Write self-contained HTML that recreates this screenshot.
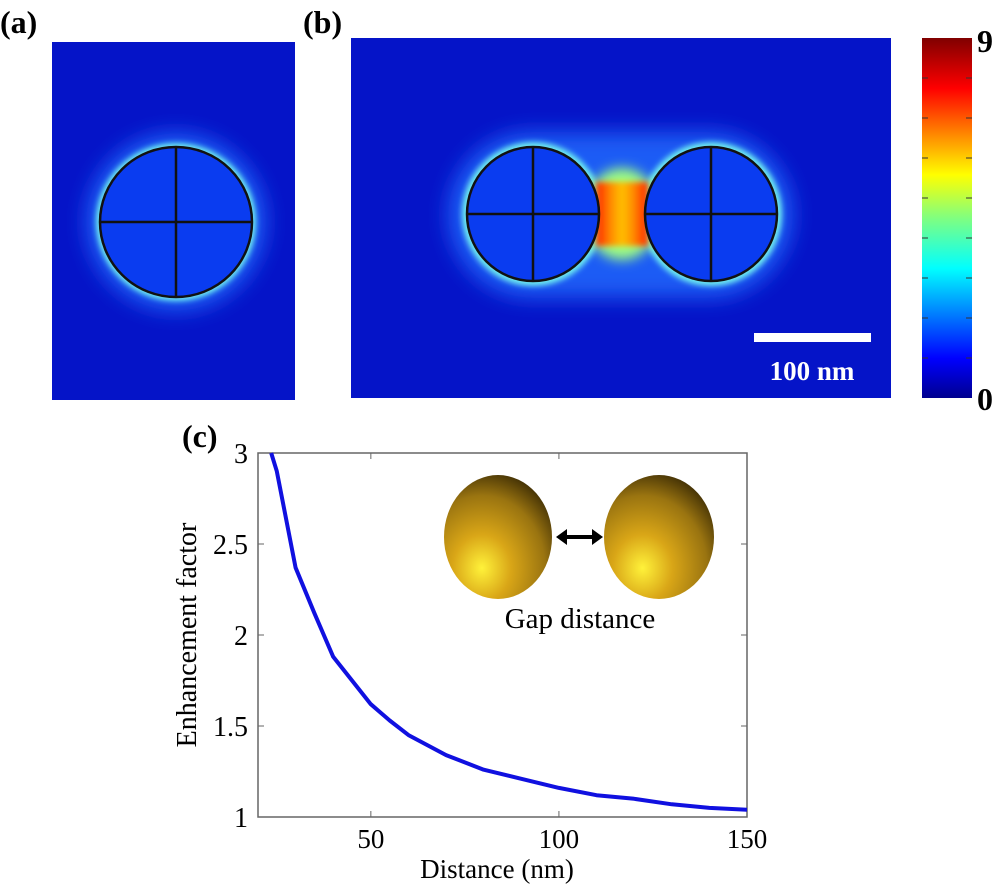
<!DOCTYPE html>
<html><head><meta charset="utf-8"><style>
body{margin:0;background:#fff;width:1000px;height:887px;overflow:hidden}
svg{position:absolute;left:0;top:0}
text{font-family:"Liberation Serif",serif}
</style></head><body>
<svg width="1000" height="887" viewBox="0 0 1000 887">
<defs>
<filter id="b6" x="-50%" y="-50%" width="200%" height="200%"><feGaussianBlur stdDeviation="10"/></filter>
<filter id="b3" x="-50%" y="-50%" width="200%" height="200%"><feGaussianBlur stdDeviation="3"/></filter>
<filter id="b5" x="-50%" y="-50%" width="200%" height="200%"><feGaussianBlur stdDeviation="6"/></filter>
<linearGradient id="jet" x1="0" y1="1" x2="0" y2="0">
<stop offset="0" stop-color="#00008f"/><stop offset="0.11" stop-color="#0000ff"/><stop offset="0.36" stop-color="#00ffff"/><stop offset="0.5" stop-color="#80ff80"/><stop offset="0.62" stop-color="#ffff00"/><stop offset="0.86" stop-color="#ff0000"/><stop offset="1" stop-color="#800000"/>
</linearGradient>
<radialGradient id="gold" cx="0.35" cy="0.75" r="0.9">
<stop offset="0" stop-color="#fff23a"/><stop offset="0.3" stop-color="#d9a617"/><stop offset="0.65" stop-color="#9a7410"/><stop offset="1" stop-color="#1a1200"/>
</radialGradient>
<linearGradient id="gapg" x1="0" y1="0" x2="1" y2="0">
<stop offset="0" stop-color="#ff2000"/><stop offset="0.3" stop-color="#ff9000"/><stop offset="0.5" stop-color="#ffc000"/><stop offset="0.7" stop-color="#ff9000"/><stop offset="1" stop-color="#ff2000"/>
</linearGradient>
</defs>
<!-- panel a -->
<g>
<rect x="52" y="42" width="243" height="358" fill="#0514c8"/>
<ellipse cx="176" cy="222" rx="90" ry="89" fill="#1a5cf5" filter="url(#b6)"/>
<ellipse cx="176" cy="222" rx="80" ry="79" fill="#70f0f0" filter="url(#b3)"/>
<ellipse cx="176" cy="222" rx="76" ry="75" fill="#0a3cf0" stroke="#111" stroke-width="2.5"/>
<line x1="100" y1="222" x2="252" y2="222" stroke="#111" stroke-width="2.5"/>
<line x1="176" y1="147" x2="176" y2="297" stroke="#111" stroke-width="2.5"/>
</g>
<!-- panel b -->
<g>
<rect x="351" y="38" width="540" height="360" fill="#0514c8"/>
<rect x="448" y="132" width="345" height="166" rx="83" fill="#1a5cf5" filter="url(#b6)"/>
<ellipse cx="533" cy="214" rx="71" ry="72" fill="#70f0f0" filter="url(#b3)"/>
<ellipse cx="711" cy="214" rx="71" ry="72" fill="#70f0f0" filter="url(#b3)"/>
<ellipse cx="622" cy="214" rx="38" ry="46" fill="#a0ff80" filter="url(#b5)"/>
<rect x="596" y="182" width="52" height="64" fill="url(#gapg)" filter="url(#b3)"/>
<ellipse cx="533" cy="214" rx="66" ry="67" fill="#0a3cf0" stroke="#111" stroke-width="2.5"/>
<ellipse cx="711" cy="214" rx="66" ry="67" fill="#0a3cf0" stroke="#111" stroke-width="2.5"/>
<line x1="467" y1="214" x2="599" y2="214" stroke="#111" stroke-width="2.5"/>
<line x1="533" y1="147" x2="533" y2="281" stroke="#111" stroke-width="2.5"/>
<line x1="645" y1="214" x2="777" y2="214" stroke="#111" stroke-width="2.5"/>
<line x1="711" y1="147" x2="711" y2="281" stroke="#111" stroke-width="2.5"/>
<rect x="754" y="333" width="117" height="9" fill="#fff"/>
<text x="812" y="380" text-anchor="middle" font-size="27" font-weight="bold" fill="#fff">100 nm</text>
</g>
<g>
<rect x="922" y="38" width="50" height="360" fill="url(#jet)"/>
<g stroke="#333" stroke-width="1">
<line x1="922" y1="78" x2="928" y2="78"/><line x1="966" y1="78" x2="972" y2="78"/>
<line x1="922" y1="118" x2="928" y2="118"/><line x1="966" y1="118" x2="972" y2="118"/>
<line x1="922" y1="158" x2="928" y2="158"/><line x1="966" y1="158" x2="972" y2="158"/>
<line x1="922" y1="198" x2="928" y2="198"/><line x1="966" y1="198" x2="972" y2="198"/>
<line x1="922" y1="238" x2="928" y2="238"/><line x1="966" y1="238" x2="972" y2="238"/>
<line x1="922" y1="278" x2="928" y2="278"/><line x1="966" y1="278" x2="972" y2="278"/>
<line x1="922" y1="318" x2="928" y2="318"/><line x1="966" y1="318" x2="972" y2="318"/>
<line x1="922" y1="358" x2="928" y2="358"/><line x1="966" y1="358" x2="972" y2="358"/>
</g>
<text x="977" y="52" font-size="32" font-weight="bold">9</text>
<text x="977" y="410" font-size="32" font-weight="bold">0</text>
</g>
<text x="0" y="33" font-size="32" font-weight="bold">(a)</text>
<text x="303" y="33" font-size="32" font-weight="bold">(b)</text>
<text x="182" y="447" font-size="32" font-weight="bold">(c)</text>
<!-- chart c -->
<g id="chart"></g>
<g>
<ellipse cx="498" cy="537" rx="54" ry="62" fill="url(#gold)"/>
<ellipse cx="659" cy="537" rx="55" ry="62" fill="url(#gold)"/>
<line x1="562" y1="537" x2="597" y2="537" stroke="#000" stroke-width="4"/>
<path d="M556 537 L567 529 L567 545 Z" fill="#000"/>
<path d="M603 537 L592 529 L592 545 Z" fill="#000"/>
<text x="580" y="628" text-anchor="middle" font-size="29">Gap distance</text>
</g>
</svg>
<script>
const distances=[23.5,25,30,35,40,45,50,55,60,70,80,90,100,110,120,130,140,150];
const factors=[3.0,2.9,2.37,2.12,1.88,1.75,1.62,1.53,1.45,1.34,1.26,1.21,1.16,1.12,1.10,1.07,1.05,1.04];
const xTicks=[50,100,150];
const yTicks=[1,1.5,2,2.5,3];
const yTickLabels=["1","1.5","2","2.5","3"];
const L=258,R=747,T=453,B=817,X0=20,X1=150,Y0=1,Y1=3;
const xs=v=>L+(v-X0)/(X1-X0)*(R-L);
const ys=v=>B-(v-Y0)/(Y1-Y0)*(B-T);
const NS="http://www.w3.org/2000/svg";
const g=document.getElementById('chart');
function mk(t,a){const e=document.createElementNS(NS,t);for(const k in a)e.setAttribute(k,a[k]);g.appendChild(e);return e;}
const frame=mk('rect',{x:L,y:T,width:R-L,height:B-T,fill:'none',stroke:'#666','stroke-width':1.5});


xTicks.forEach(v=>{
 const x=xs(v);
 const t1=mk('line',{x1:x,y1:B,x2:x,y2:B-6,stroke:'#666'});
 
 
 const t2=mk('line',{x1:x,y1:T,x2:x,y2:T+6,stroke:'#666'});
 
 
 const tx=mk('text',{x:x,y:B+31,'text-anchor':'middle','font-size':27});
 tx.textContent=v;
 
 
});
yTicks.forEach((v,i)=>{
 const y=ys(v);
 const t1=mk('line',{x1:L,y1:y,x2:L+6,y2:y,stroke:'#666'});
 
 
 const t2=mk('line',{x1:R,y1:y,x2:R-6,y2:y,stroke:'#666'});
 
 
 const tx=mk('text',{x:L-10,y:y+10,'text-anchor':'end','font-size':28});
 tx.textContent=yTickLabels[i];
 
 
});
const xl=mk('text',{x:497,y:878,'text-anchor':'middle','font-size':27});
xl.textContent='Distance (nm)';


const yl=mk('text',{x:0,y:0,'text-anchor':'middle','font-size':28,transform:`translate(196,${(T+B)/2}) rotate(-90)`});
yl.textContent='Enhancement factor';


const d=distances.map((v,i)=>(i?'L':'M')+xs(v).toFixed(1)+' '+ys(factors[i]).toFixed(1)).join(' ');
const line=mk('path',{d:d,fill:'none',stroke:'#1010e0','stroke-width':4,'stroke-linejoin':'round'});


</script>
</body></html>
